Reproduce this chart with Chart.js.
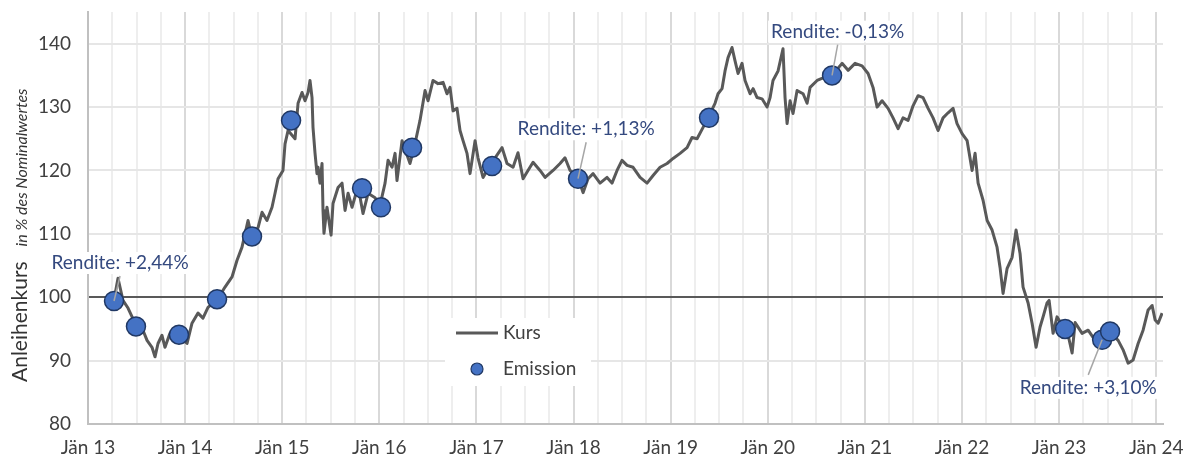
<!DOCTYPE html>
<html>
<head>
<meta charset="utf-8">
<script src="https://cdn.jsdelivr.net/npm/chart.js@4/dist/chart.umd.min.js"></script>
<style>
  html, body { margin: 0; padding: 0; background: #fff; }
</style>
</head>
<body>
<canvas id="chart" width="1183" height="458"></canvas>
<script>
// Kurs (Zeitpunkt als Dezimaljahr, Wert in % des Nominalwertes)
const kursJahr = [
  2013.28, 2013.309, 2013.36, 2013.412, 2013.484, 2013.566, 2013.608, 2013.659, 2013.69, 2013.721,
  2013.762, 2013.793, 2013.844, 2013.927, 2014.02, 2014.071, 2014.133, 2014.184, 2014.236, 2014.339,
  2014.411, 2014.483, 2014.534, 2014.586, 2014.648, 2014.689, 2014.751, 2014.792, 2014.843, 2014.895,
  2014.926, 2014.957, 2015.008, 2015.029, 2015.06, 2015.132, 2015.163, 2015.204, 2015.235, 2015.266,
  2015.286, 2015.307, 2015.317, 2015.338, 2015.358, 2015.369, 2015.389, 2015.41, 2015.42, 2015.43,
  2015.461, 2015.503, 2015.523, 2015.575, 2015.616, 2015.647, 2015.678, 2015.719, 2015.781, 2015.832,
  2015.884, 2015.956, 2016.007, 2016.059, 2016.09, 2016.131, 2016.162, 2016.182, 2016.234, 2016.316,
  2016.357, 2016.419, 2016.471, 2016.502, 2016.553, 2016.604, 2016.656, 2016.697, 2016.728, 2016.759,
  2016.8, 2016.831, 2016.862, 2016.903, 2016.934, 2016.986, 2017.016, 2017.068, 2017.14, 2017.264,
  2017.315, 2017.377, 2017.428, 2017.48, 2017.531, 2017.583, 2017.655, 2017.707, 2017.789, 2017.861,
  2017.912, 2017.964, 2018.046, 2018.098, 2018.149, 2018.201, 2018.273, 2018.345, 2018.396, 2018.448,
  2018.499, 2018.551, 2018.613, 2018.685, 2018.757, 2018.819, 2018.891, 2018.963, 2019.025, 2019.097,
  2019.169, 2019.22, 2019.272, 2019.334, 2019.385, 2019.457, 2019.488, 2019.529, 2019.56, 2019.591,
  2019.632, 2019.663, 2019.694, 2019.735, 2019.766, 2019.818, 2019.849, 2019.89, 2019.941, 2019.993,
  2020.024, 2020.054, 2020.106, 2020.157, 2020.178, 2020.199, 2020.23, 2020.26, 2020.302, 2020.364,
  2020.405, 2020.436, 2020.508, 2020.57, 2020.662, 2020.765, 2020.827, 2020.899, 2020.971, 2021.033,
  2021.084, 2021.126, 2021.177, 2021.239, 2021.29, 2021.342, 2021.393, 2021.445, 2021.496, 2021.548,
  2021.599, 2021.651, 2021.702, 2021.754, 2021.805, 2021.857, 2021.908, 2021.949, 2022.001, 2022.053,
  2022.104, 2022.135, 2022.166, 2022.217, 2022.259, 2022.31, 2022.361, 2022.392, 2022.423, 2022.464,
  2022.516, 2022.557, 2022.598, 2022.629, 2022.681, 2022.722, 2022.763, 2022.804, 2022.835, 2022.876,
  2022.897, 2022.938, 2022.979, 2023.041, 2023.093, 2023.134, 2023.165, 2023.237, 2023.299, 2023.371,
  2023.433, 2023.505, 2023.608, 2023.659, 2023.711, 2023.762, 2023.814, 2023.865, 2023.917, 2023.958,
  2023.989, 2024.02, 2024.061
];
const kursWert = [
  100.6, 103.0, 99.5, 98.3, 95.9, 94.8, 93.2, 92.1, 90.6, 92.7,
  94.0, 92.1, 94.3, 94.0, 92.7, 95.9, 97.5, 96.7, 98.4, 99.8,
  101.6, 103.2, 105.8, 107.9, 112.1, 109.4, 111.0, 113.4, 112.1, 114.2,
  116.4, 118.7, 120.0, 124.2, 126.3, 125.0, 130.6, 132.3, 131.0, 132.3,
  134.2, 131.5, 126.8, 122.7, 119.5, 120.5, 118.0, 121.1, 113.7, 110.1,
  114.2, 109.8, 114.8, 117.3, 118.0, 113.7, 116.4, 114.2, 117.5, 113.2,
  116.4, 115.7, 114.5, 118.0, 121.6, 120.5, 122.7, 118.4, 124.7, 121.1,
  123.5, 127.9, 132.6, 131.0, 134.2, 133.7, 133.9, 132.1, 133.1, 129.4,
  129.8, 126.3, 124.7, 122.7, 119.5, 124.7, 122.0, 118.9, 120.8, 123.6,
  121.1, 120.5, 122.8, 118.7, 120.0, 121.3, 120.0, 118.9, 120.0, 121.1,
  122.0, 120.0, 118.9, 116.5, 118.7, 119.5, 118.0, 118.9, 118.0, 120.0,
  121.6, 120.8, 120.5, 118.9, 118.0, 119.2, 120.5, 121.1, 121.9, 122.7,
  123.6, 125.2, 125.0, 126.8, 128.3, 130.6, 132.1, 132.9, 135.7, 137.8,
  139.4, 137.3, 135.3, 136.9, 134.2, 132.1, 132.9, 131.5, 131.3, 130.0,
  131.5, 134.2, 135.7, 139.2, 131.5, 127.4, 131.0, 129.0, 132.6, 132.1,
  130.6, 133.1, 134.2, 134.6, 135.0, 136.9, 135.8, 136.9, 136.5, 135.3,
  133.1, 130.0, 131.0, 129.8, 128.3, 126.6, 128.3, 127.9, 130.2, 131.8,
  131.5, 129.8, 128.3, 126.3, 128.3, 129.1, 129.8, 127.4, 125.8, 124.7,
  120.0, 122.7, 118.0, 115.3, 112.1, 110.6, 107.9, 104.7, 100.6, 104.5,
  106.3, 110.6, 106.9, 101.6, 99.1, 95.9, 92.1, 95.3, 96.9, 99.1,
  99.5, 94.3, 96.9, 95.3, 94.0, 91.2, 96.0, 94.3, 94.8, 93.2,
  93.8, 94.8, 93.2, 91.7, 89.6, 90.1, 92.7, 94.8, 98.0, 98.7,
  96.4, 95.9, 97.5
];

// Emissionen
const emissionJahr = [2013.268, 2013.494, 2013.937, 2014.329, 2014.689, 2015.091, 2015.822, 2016.017,
  2016.337, 2017.161, 2018.046, 2019.395, 2020.662, 2023.062, 2023.443, 2023.525];
const emissionWert = [99.4, 95.4, 94.1, 99.7, 109.6, 127.9, 117.2, 114.2,
  123.6, 120.7, 118.7, 128.3, 135.0, 95.0, 93.3, 94.6];

// Rendite-Beschriftungen
const renditeText = ['Rendite: +2,44%', 'Rendite: +1,13%', 'Rendite: -0,13%', 'Rendite: +3,10%'];
const renditeEmission = [0, 10, 12, 14];
const renditeLabelJahr = [2013.33, 2018.13, 2020.72, 2023.30];
const renditeLabelWert = [105.4, 126.5, 141.9, 85.7];

// Achsen
const tickJahre = [2013, 2014, 2015, 2016, 2017, 2018, 2019, 2020, 2021, 2022, 2023, 2024];
const tickLabels = ['Jän 13', 'Jän 14', 'Jän 15', 'Jän 16', 'Jän 17', 'Jän 18',
  'Jän 19', 'Jän 20', 'Jän 21', 'Jän 22', 'Jän 23', 'Jän 24'];
const yTicks = [80, 90, 100, 110, 120, 130, 140];
const jahrMin = 2013, jahrMax = 2024.07;
const yMin = 80, yMax = 145;

const kursData = kursJahr.map((x, i) => ({ x: x, y: kursWert[i] }));
const emissionData = emissionJahr.map((x, i) => ({ x: x, y: emissionWert[i] }));

const textColor = '#404040';
const labelBlue = '#34497f';

const renditePlugin = {
  id: 'rendite',
  beforeDatasetsDraw(chart) {
    const ctx = chart.ctx;
    const xs = chart.scales.x, ys = chart.scales.y;
    ctx.save();
    ctx.font = '19px Lato';
    ctx.fillStyle = '#ffffff';
    renditeText.forEach((t, i) => {
      const cx = xs.getPixelForValue(renditeLabelJahr[i]);
      const cy = ys.getPixelForValue(renditeLabelWert[i]);
      const w = ctx.measureText(t).width;
      ctx.fillRect(cx - w / 2 - 3, cy - 11, w + 6, 22);
    });
    // legend box
    const a = chart.chartArea;
    ctx.fillRect(a.left + 357, a.top + 306, 146, 68);
    ctx.restore();
  },
  afterDatasetsDraw(chart) {
    const ctx = chart.ctx;
    const xs = chart.scales.x, ys = chart.scales.y;
    ctx.save();
    renditeText.forEach((t, i) => {
      const cx = xs.getPixelForValue(renditeLabelJahr[i]);
      const cy = ys.getPixelForValue(renditeLabelWert[i]);
      const k = renditeEmission[i];
      const px = xs.getPixelForValue(emissionJahr[k]);
      const py = ys.getPixelForValue(emissionWert[k]);
      const dir = py > cy ? 1 : -1;
      ctx.strokeStyle = '#a6a6a6';
      ctx.lineWidth = 1.5;
      ctx.beginPath();
      ctx.moveTo(cx, cy + dir * 13);
      ctx.lineTo(px, py);
      ctx.stroke();
      ctx.font = '19px Lato';
      ctx.fillStyle = labelBlue;
      ctx.textAlign = 'center';
      ctx.textBaseline = 'middle';
      ctx.fillText(t, cx, cy);
    });

    // legend
    const a = chart.chartArea;
    const lx = a.left + 368, ly1 = a.top + 321, ly2 = a.top + 357;
    ctx.strokeStyle = '#595959';
    ctx.lineWidth = 3;
    ctx.beginPath();
    ctx.moveTo(lx, ly1);
    ctx.lineTo(lx + 42, ly1);
    ctx.stroke();
    ctx.beginPath();
    ctx.arc(lx + 21, ly2, 6, 0, Math.PI * 2);
    ctx.fillStyle = '#4472c4';
    ctx.fill();
    ctx.strokeStyle = '#203864';
    ctx.lineWidth = 1.2;
    ctx.stroke();
    ctx.font = '19px Lato';
    ctx.fillStyle = textColor;
    ctx.textAlign = 'left';
    ctx.textBaseline = 'middle';
    ctx.fillText(chart.data.datasets[1].label, lx + 47, ly1);
    ctx.fillText(chart.data.datasets[0].label, lx + 47, ly2);

    // y axis title
    ctx.translate(27, 382);
    ctx.rotate(-Math.PI / 2);
    ctx.textAlign = 'left';
    ctx.textBaseline = 'alphabetic';
    ctx.fillStyle = '#333333';
    ctx.font = '21px Lato';
    ctx.fillText('Anleihenkurs', 0, 0);
    const w = ctx.measureText('Anleihenkurs').width;
    ctx.font = 'italic 16px Lato';
    ctx.fillText('in % des Nominalwertes', w + 15, 0);
    ctx.restore();
  }
};

new Chart(document.getElementById('chart'), {
  type: 'scatter',
  data: {
    datasets: [
      {
        label: 'Emission',
        data: emissionData,
        order: 0,
        pointRadius: 9.5,
        pointBackgroundColor: '#4472c4',
        pointBorderColor: '#203864',
        pointBorderWidth: 1.5,
        showLine: false
      },
      {
        label: 'Kurs',
        data: kursData,
        order: 1,
        showLine: true,
        borderColor: '#595959',
        borderWidth: 3,
        pointRadius: 0,
        tension: 0,
        borderJoinStyle: 'round'
      }
    ]
  },
  options: {
    responsive: false,
    animation: false,
    layout: { padding: { top: 12, right: 20, left: 0, bottom: 0 } },
    plugins: { legend: { display: false }, tooltip: { enabled: false } },
    scales: {
      x: {
        type: 'linear',
        min: jahrMin,
        max: jahrMax,
        afterBuildTicks: axis => {
          // Quartalsgitter
          const t = [];
          for (let i = 0; i < tickJahre.length; i++) {
            t.push({ value: tickJahre[i] });
            if (i < tickJahre.length - 1) {
              t.push({ value: tickJahre[i] + 0.25 }, { value: tickJahre[i] + 0.5 }, { value: tickJahre[i] + 0.75 });
            }
          }
          axis.ticks = t;
        },
        afterFit: axis => {
          axis.height = 34;
          axis.paddingLeft = 0;
          axis.paddingRight = 0;
        },
        ticks: {
          autoSkip: false,
          maxRotation: 0,
          minRotation: 0,
          padding: 12,
          color: textColor,
          font: { family: 'Lato', size: 19 },
          callback: v => {
            const i = tickJahre.indexOf(v);
            return i >= 0 ? tickLabels[i] : '';
          }
        },
        grid: {
          drawTicks: false,
          lineWidth: 2,
          color: c => (c.tick && Number.isInteger(c.tick.value)) ? '#d9d9d9' : '#eeeeee'
        },
        border: { color: '#c0c0c0', width: 2 }
      },
      y: {
        min: yMin,
        max: yMax,
        afterBuildTicks: axis => { axis.ticks = yTicks.map(v => ({ value: v })); },
        afterFit: axis => {
          axis.width = 88;
          axis.paddingTop = 0;
          axis.paddingBottom = 0;
        },
        ticks: {
          padding: 17,
          color: textColor,
          font: { family: 'Lato', size: 19 }
        },
        grid: {
          drawTicks: false,
          lineWidth: 2,
          color: c => (c.tick && c.tick.value === 100) ? '#595959' : '#e6e6e6'
        },
        border: { color: '#c0c0c0', width: 2 }
      }
    }
  },
  plugins: [renditePlugin]
});
</script>
</body>
</html>
